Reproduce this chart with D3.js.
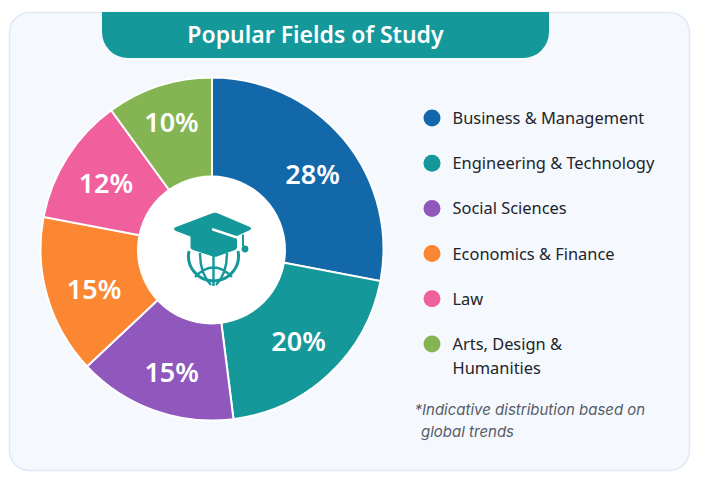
<!DOCTYPE html>
<html>
<head>
<meta charset="utf-8">
<script src="https://cdn.jsdelivr.net/npm/d3@7"></script>
<style>
html,body{margin:0;padding:0;background:#fff;}
svg{display:block;}
text{font-family:"Noto Sans",sans-serif;}
</style>
</head>
<body>
<svg id="chart" width="701" height="478"></svg>
<script>
const categories = ["Business & Management","Engineering & Technology","Social Sciences","Economics & Finance","Law","Arts, Design & Humanities"];
const shares = [28,20,15,15,12,10];
const sliceColors = ["#1268a8","#14989a","#9058bd","#fb8733","#f0609c","#84b552"];
const legendLines = [["Business & Management"],["Engineering & Technology"],["Social Sciences"],["Economics & Finance"],["Law"],["Arts, Design &","Humanities"]];
const noteLines = ["*Indicative distribution based on","global trends"];
const titleText = "Popular Fields of Study";
const teal = "#14989a";

const svg = d3.select("#chart");

// Card and title banner
svg.append("rect").attr("x",9.5).attr("y",12.5).attr("width",680).attr("height",458).attr("rx",20)
  .attr("fill","#f5f8fd").attr("stroke","#dfeaf7").attr("stroke-width",1.5);
svg.append("path")
  .attr("d","M102,12H549V32A26,26 0 0 1 523,58H128A26,26 0 0 1 102,32Z")
  .attr("fill",teal);
svg.append("text").attr("x",315.5).attr("y",43).attr("text-anchor","middle")
  .attr("font-size",23).attr("font-weight",600).attr("fill","#fff").text(titleText);

// Donut
const cx = 212, cy = 249, outer = 171.5, inner = 74.5;
const pie = d3.pie().value(d=>d.value).sort(null);
const arc = d3.arc().innerRadius(0).outerRadius(outer);
const data = categories.map((c,i)=>({name:c,value:shares[i],color:sliceColors[i]}));
const g = svg.append("g").attr("transform",`translate(${cx},${cy})`);
const arcs = pie(data);
g.selectAll("path.slice").data(arcs).join("path").attr("class","slice")
  .attr("d",arc).attr("fill",d=>d.data.color).attr("stroke","#fff").attr("stroke-width",2);
g.append("circle").attr("cx",-0.5).attr("cy",1).attr("r",inner).attr("fill","#fff");

// Percent labels sit near mid-ring, shifted a little per slice for optical balance
const labelArc = d3.arc().innerRadius(128).outerRadius(128);
const labelShift = [[2,6.5],[-1,-1.5],[3,2.5],[5,3.5],[2,2.5],[-1,-5.5]];
g.selectAll("text.pct").data(arcs).join("text").attr("class","pct")
  .attr("x",(d,i)=>labelArc.centroid(d)[0]+labelShift[i][0])
  .attr("y",(d,i)=>labelArc.centroid(d)[1]+labelShift[i][1])
  .attr("text-anchor","middle").attr("dominant-baseline","central")
  .attr("font-size",27).attr("font-weight",600).attr("fill","#fff")
  .text(d=>d.data.value+"%");

// Graduation cap over a globe
const icon = svg.append("g");
const globe = icon.append("g").attr("fill","none").attr("stroke",teal).attr("stroke-width",3);
globe.append("path").attr("d","M189,251A25,25 0 1 0 238,251");
globe.append("path").attr("stroke-width",2.4).attr("d","M200,253Q200,274 211,285M227,253Q227,274 216,285M213.5,256V286");
globe.append("path").attr("stroke-width",2.4).attr("d","M195,277Q213.5,258 232,277");
icon.append("path").attr("fill",teal)
  .attr("d","M174,229Q174,227.5 176,227L213,213Q215,212.5 217,213L250,227Q252,228.5 250,230L237,236V247Q237,249 235,250L217,256.5Q215,257 213,256.5L193,250Q190.5,249 190.5,247V236.5L176,231Q174,230 174,229Z");
icon.append("path").attr("fill","none").attr("stroke","#fff").attr("stroke-width",2.5).attr("stroke-linecap","round")
  .attr("d","M213,229.5L237,237.5");
icon.append("path").attr("fill","none").attr("stroke",teal).attr("stroke-width",2)
  .attr("d","M243,234.5V246");
icon.append("circle").attr("cx",245).attr("cy",249).attr("r",3.4).attr("fill",teal);

// Legend rows are spaced evenly from the first marker to the last
const legendRow = d3.scaleLinear().domain([0,categories.length-1]).range([118,344]);
const legend = svg.append("g");
legendLines.forEach((lines,i)=>{
  const y = legendRow(i);
  legend.append("circle").attr("cx",432).attr("cy",y).attr("r",8.5).attr("fill",sliceColors[i]);
  lines.forEach((t,j)=>{
    legend.append("text").attr("x",452.5).attr("y",y+6+j*24)
      .attr("font-size",16.4).attr("fill","#20242c").text(t);
  });
});

// Footnote
svg.append("text").attr("x",414.5).attr("y",415).attr("font-size",15).attr("font-style","italic")
  .style("font-family","Inter, sans-serif").attr("fill","#565c68").text(noteLines[0]);
svg.append("text").attr("x",421).attr("y",437).attr("font-size",15).attr("font-style","italic")
  .style("font-family","Inter, sans-serif").attr("fill","#565c68").text(noteLines[1]);
</script>
</body>
</html>
